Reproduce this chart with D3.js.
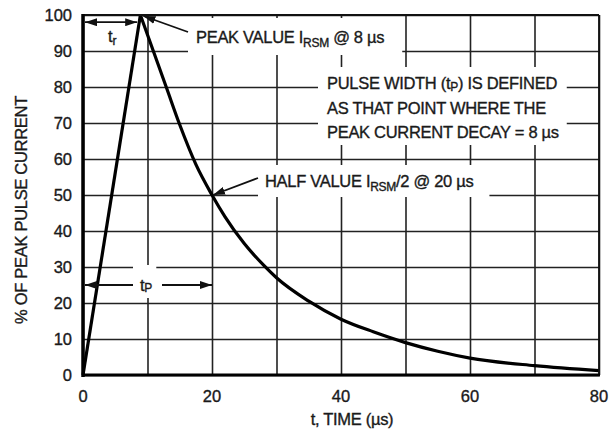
<!DOCTYPE html>
<html>
<head>
<meta charset="utf-8">
<script src="https://cdn.jsdelivr.net/npm/d3@7"></script>
<style>
  body { margin: 0; background: #fff; }
  text { font-family: "Liberation Sans", Arial, sans-serif; fill: #1a1a1a; stroke: #1a1a1a; stroke-width: 0.35px; }
</style>
</head>
<body>
<script>
const width = 609,
      height = 432

// tick values
const timeTicks = [0, 20, 40, 60, 80]
const timeGrid = [0, 10, 20, 30, 40, 50, 60, 70, 80]
const pctTicks = [0, 10, 20, 30, 40, 50, 60, 70, 80, 90, 100]

// rising edge (linear)
const riseTime = [0, 8.9]
const riseValue = [0, 100]

// decay
const decayTime = [8.9, 11, 13, 15, 17.5, 20, 22, 25, 28, 30, 35, 40, 45, 50, 55, 60, 70, 80]
const decayValue = [100, 89.5, 79.5, 69.5, 58.5, 50, 44, 36.5, 30.5, 27, 20.5, 15.5, 12, 9, 6.6, 4.7, 2.6, 1.2]

const plotLeft = 83, plotRight = 599, plotTop = 15, plotBottom = 375

const x = d3.scaleLinear().domain([0, 80]).range([plotLeft, plotRight])
const y = d3.scaleLinear().domain([0, 100]).range([plotBottom, plotTop])

const svg = d3.select('body').append('svg')
    .attr('width', width)
    .attr('height', height)

// arrow heads
const defs = svg.append('defs')
defs.append('marker')
    .attr('id', 'head')
    .attr('viewBox', '0 0 12 8')
    .attr('refX', 12).attr('refY', 4)
    .attr('markerWidth', 12).attr('markerHeight', 8)
    .attr('markerUnits', 'userSpaceOnUse')
    .attr('orient', 'auto-start-reverse')
  .append('path')
    .attr('d', 'M0,0 L12,4 L0,8 Z')
    .attr('fill', '#111')

// grid
const gridColor = '#222'
svg.append('g')
    .attr('transform', `translate(0,${plotBottom})`)
    .call(d3.axisBottom(x).tickValues(timeGrid).tickSize(-(plotBottom - plotTop)).tickFormat(''))
    .call(g => g.select('.domain').remove())
    .call(g => g.selectAll('line').attr('stroke', gridColor).attr('stroke-width', 1.6))

svg.append('g')
    .attr('transform', `translate(${plotLeft},0)`)
    .call(d3.axisLeft(y).tickValues(pctTicks).tickSize(-(plotRight - plotLeft)).tickFormat(''))
    .call(g => g.select('.domain').remove())
    .call(g => g.selectAll('line').attr('stroke', gridColor).attr('stroke-width', 1.6))

// labels with white knockout behind them
const fs = 16.5
const notes = svg.append('g')

function label(tx, ty, pads, build) {
    const g = notes.append('g')
    const rect = g.append('rect').attr('fill', '#fff')
    const t = g.append('text')
        .attr('x', tx).attr('y', ty)
        .style('font-size', fs + 'px')
        .style('letter-spacing', '-0.3px')
    build(t)
    const b = t.node().getBBox()
    rect.attr('x', b.x - pads[3])
        .attr('y', b.y - pads[0])
        .attr('width', b.width + pads[1] + pads[3])
        .attr('height', b.height + pads[0] + pads[2])
    return g
}

function sub(t, s, size, dy) {
    t.append('tspan').text(s).style('font-size', size + 'px').attr('dy', dy)
}

// peak label
label(196, 43, [10, 18, 5, 8], t => {
    t.append('tspan').text('PEAK VALUE I')
    sub(t, 'RSM', 12, 4)
    t.append('tspan').text(' @ 8 \u00b5s').attr('dy', -4)
})

// pulse width definition
const pw = notes.append('g')
const pwRect = pw.append('rect').attr('fill', '#fff')
const pwText = pw.append('text').style('font-size', fs + 'px').style('letter-spacing', '-0.3px')
const l1 = pwText.append('tspan').attr('x', 327).attr('y', 89)
l1.append('tspan').text('PULSE WIDTH (t')
l1.append('tspan').text('P').style('font-size', '12px').attr('dy', 2)
l1.append('tspan').text(') IS DEFINED').attr('dy', -2)
pwText.append('tspan').attr('x', 327).attr('y', 114).text('AS THAT POINT WHERE THE')
pwText.append('tspan').attr('x', 327).attr('y', 138).text('PEAK CURRENT DECAY = 8 \u00b5s')
const pb = pwText.node().getBBox()
pwRect.attr('x', pb.x - 9).attr('y', pb.y - 7)
    .attr('width', pb.width + 17).attr('height', pb.height + 11)

// half value label
label(265, 187, [7, 16, 3, 7], t => {
    t.append('tspan').text('HALF VALUE I')
    sub(t, 'RSM', 12, 4)
    t.append('tspan').text('/2 @ 20 \u00b5s').attr('dy', -4)
})

// tp label
label(140, 291, [11, 4, 3, 7], t => {
    t.append('tspan').text('t')
    sub(t, 'P', 12, 1)
})

// tr label
notes.append('text')
    .attr('x', 108).attr('y', 42)
    .style('font-size', fs + 'px')
    .call(t => {
        t.append('tspan').text('t')
        sub(t, 'r', 12, 3)
    })

// pulse curve
const line = d3.line().x(d => x(d[0])).y(d => y(d[1]))

svg.append('path')
    .datum(riseTime.map((d, i) => [d, riseValue[i]]))
    .attr('d', line)
    .attr('fill', 'none')
    .attr('stroke', '#000')
    .attr('stroke-width', 3.2)

svg.append('path')
    .datum(decayTime.map((d, i) => [d, decayValue[i]]))
    .attr('d', line.curve(d3.curveMonotoneX))
    .attr('fill', 'none')
    .attr('stroke', '#000')
    .attr('stroke-width', 3.2)

// arrows
function arrow(x1, y1, x2, y2, both) {
    const a = svg.append('line')
        .attr('x1', x1).attr('y1', y1)
        .attr('x2', x2).attr('y2', y2)
        .attr('stroke', '#111')
        .attr('stroke-width', 1.8)
        .attr('marker-end', 'url(#head)')
    if (both) a.attr('marker-start', 'url(#head)')
}

// tr
arrow(x(0) + 2, y(98), x(8.4), y(98), true)
// peak
arrow(188, 32, x(8.9) + 3, y(100) + 1, false)
// half value
arrow(258, 178, x(20) + 1, y(50), false)
// tp: two halves around the text
arrow(133, y(25), x(0) + 2, y(25), false)
arrow(162, y(25), x(20), y(25), false)

// frame
svg.append('line').attr('x1', plotLeft).attr('x2', plotRight).attr('y1', plotTop).attr('y2', plotTop)
    .attr('stroke', '#111').attr('stroke-width', 1.8)
svg.append('line').attr('x1', plotRight).attr('x2', plotRight).attr('y1', plotTop).attr('y2', plotBottom)
    .attr('stroke', '#111').attr('stroke-width', 1.8)
svg.append('line').attr('x1', plotLeft).attr('x2', plotLeft).attr('y1', plotTop - 1).attr('y2', plotBottom + 2)
    .attr('stroke', '#000').attr('stroke-width', 3.5)
svg.append('line').attr('x1', plotLeft - 1).attr('x2', plotRight + 1).attr('y1', plotBottom).attr('y2', plotBottom)
    .attr('stroke', '#000').attr('stroke-width', 3.2)

// tick labels
svg.append('g')
    .selectAll('text')
    .data(timeTicks)
    .enter()
    .append('text')
        .attr('x', d => x(d))
        .attr('y', 402)
        .attr('text-anchor', 'middle')
        .style('font-size', fs + 'px')
        .text(d => d)

svg.append('g')
    .selectAll('text')
    .data(pctTicks)
    .enter()
    .append('text')
        .attr('x', 72)
        .attr('y', d => y(d))
        .attr('dy', '0.36em')
        .attr('text-anchor', 'end')
        .style('font-size', fs + 'px')
        .text(d => d)

// axis titles
svg.append('text')
    .attr('x', 352).attr('y', 425)
    .attr('text-anchor', 'middle')
    .style('font-size', fs + 'px')
    .style('letter-spacing', '-0.3px')
    .text('t, TIME (\u00b5s)')

svg.append('text')
    .attr('transform', 'translate(27,210) rotate(-90)')
    .attr('text-anchor', 'middle')
    .style('font-size', fs + 'px')
    .style('letter-spacing', '-0.3px')
    .text('% OF PEAK PULSE CURRENT')
</script>
</body>
</html>
